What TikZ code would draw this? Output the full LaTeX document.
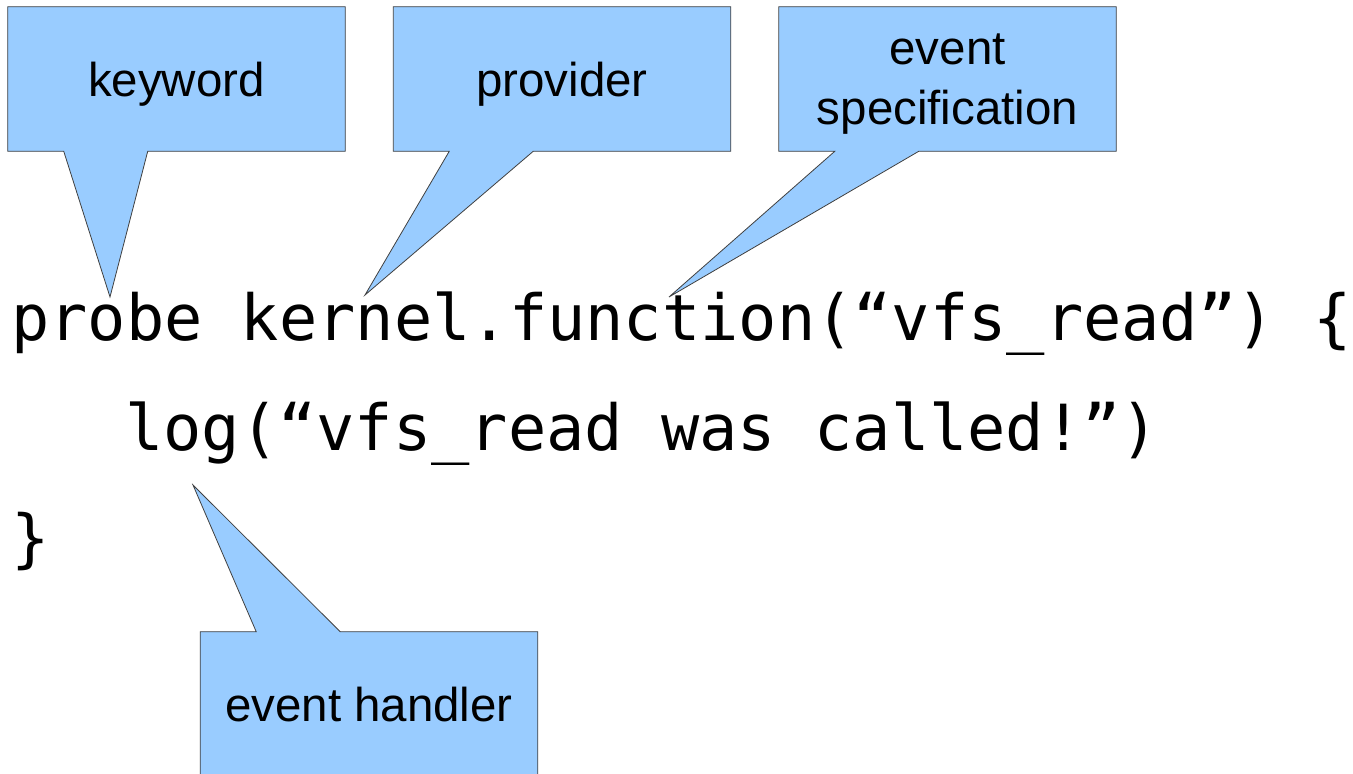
\documentclass[tikz,border=0pt]{standalone}
\usepackage{fontspec}
\setmainfont{Liberation Sans}
\newfontfamily\codefont{DejaVu Sans Mono}
\usetikzlibrary{positioning}
\usetikzlibrary{calc}
\usetikzlibrary{backgrounds}
\definecolor{calloutblue}{RGB}{153,204,255}

\begin{document}
\begin{tikzpicture}[
		x=0.75pt, y=-0.75pt,
		node distance=36pt,
		notebox/.style={rectangle, inner sep=0pt, minimum width=252.75pt, minimum height=108pt, text depth=0pt, align=center, font=\fontsize{35.6}{45}\selectfont},
		callout/.style={fill=calloutblue, draw=black!75, line width=0.6pt, line join=miter},
		codeline/.style={anchor=base west, inner sep=0pt, font=\codefont\fontsize{47.7}{55}\selectfont}
		]
		\useasboundingbox (0,0) rectangle (1353,774);
		
		% Code lines
		\node[codeline] (probe) at (11,340) {probe kernel.function(“vfs\_read”) \{};
		\node[codeline] (body) at (125,450) {log(“vfs\_read was called!”)};
		\node[codeline] (closing) at (11,560) {\}};
		
		% Pointer tips
		\coordinate (kwtip) at (110,297);
		\coordinate (provtip) at (365,295);
		\coordinate (spectip) at (669,297);
		\coordinate (handtip) at (193,485);
		
		% Callout labels
		\node[notebox] (keyword) at (176.5,79) {keyword};
		\node[notebox, right=of keyword] (provider) {provider};
		\node[notebox, right=of provider] (eventspec) {event\\specification};
		\node[notebox] (handler) at (369,704) {event handler};
		
		% Callout bodies
		\begin{scope}[on background layer]
			\draw[callout] (keyword.north west) -| (keyword.south east) -- ($(keyword.south west)+(140,0)$) -- (kwtip) -- ($(keyword.south west)+(56,0)$) -- (keyword.south west) -- cycle;
			\draw[callout] (provider.north west) -| (provider.south east) -- ($(provider.south west)+(140,0)$) -- (provtip) -- ($(provider.south west)+(56,0)$) -- (provider.south west) -- cycle;
			\draw[callout] (eventspec.north west) -| (eventspec.south east) -- ($(eventspec.south west)+(140,0)$) -- (spectip) -- ($(eventspec.south west)+(56,0)$) -- (eventspec.south west) -- cycle;
			\draw[callout] (handler.south west) -- (handler.north west) -- ($(handler.north west)+(56,0)$) -- (handtip) -- ($(handler.north west)+(140,0)$) -- (handler.north east) -- (handler.south east);
		\end{scope}
		
	\end{tikzpicture}
\end{document}
